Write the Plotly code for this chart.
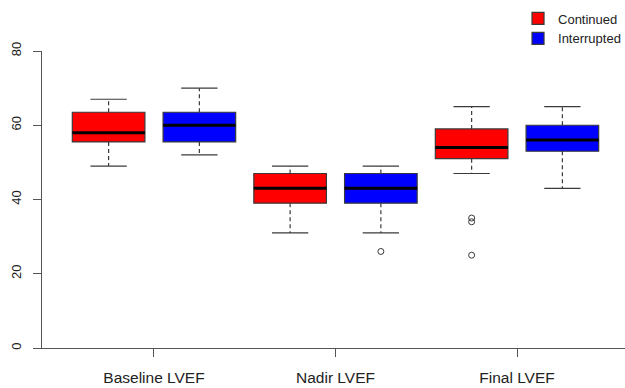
import plotly.graph_objects as go

categories = ["Baseline LVEF", "Nadir LVEF", "Final LVEF"]
groups = ["Continued", "Interrupted"]
colors = ["#ff0000", "#0000ff"]

# box statistics per group, one value per category
cont_low = [49, 31, 47]
cont_q1 = [55.5, 39, 51]
cont_med = [58, 43, 54]
cont_q3 = [63.5, 47, 59]
cont_high = [67, 49, 65]
cont_outliers = [[], [], [35, 34, 25]]

intr_low = [52, 31, 43]
intr_q1 = [55.5, 39, 53]
intr_med = [60, 43, 56]
intr_q3 = [63.5, 47, 60]
intr_high = [70, 49, 65]
intr_outliers = [[], [26], []]

stats = [
    (cont_low, cont_q1, cont_med, cont_q3, cont_high, cont_outliers),
    (intr_low, intr_q1, intr_med, intr_q3, intr_high, intr_outliers),
]
offsets = [-0.25, 0.25]
BOXW = 0.4
CAPW = 0.2
edge = "#3a3a3a"

fig = go.Figure()
for gi, (name, col) in enumerate(zip(groups, colors)):
    low, q1, med, q3, high, outl = stats[gi]
    xs = [i + 1 + offsets[gi] for i in range(len(categories))]
    wx, wy = [], []
    cx, cy = [], []
    mx, my = [], []
    ox, oy = [], []
    for i, x in enumerate(xs):
        wx += [x, x, None, x, x, None]
        wy += [q3[i], high[i], None, q1[i], low[i], None]
        cx += [x - CAPW / 2, x + CAPW / 2, None, x - CAPW / 2, x + CAPW / 2, None]
        cy += [high[i], high[i], None, low[i], low[i], None]
        mx += [x - BOXW / 2, x + BOXW / 2, None]
        my += [med[i], med[i], None]
        for v in outl[i]:
            ox.append(x)
            oy.append(v)
    fig.add_trace(go.Scatter(x=wx, y=wy, mode="lines", showlegend=False,
                             line=dict(color=edge, width=1.2, dash="4px,3px"), hoverinfo="skip"))
    fig.add_trace(go.Scatter(x=cx, y=cy, mode="lines", showlegend=False,
                             line=dict(color=edge, width=1.2), hoverinfo="skip"))
    fig.add_trace(go.Box(name=name, x=xs, q1=q1, median=med, q3=q3,
                         lowerfence=q1, upperfence=q3, width=BOXW,
                         fillcolor=col, line=dict(color=edge, width=1.2),
                         whiskerwidth=0, boxpoints=False, showlegend=True))
    fig.add_trace(go.Scatter(x=mx, y=my, mode="lines", showlegend=False,
                             line=dict(color="black", width=3), hoverinfo="skip"))
    if ox:
        fig.add_trace(go.Scatter(x=ox, y=oy, mode="markers", showlegend=False,
                                 marker=dict(symbol="circle-open", size=6,
                                             color=edge, line=dict(width=1))))

fig.update_layout(
    width=625, height=388,
    margin=dict(l=42, r=0, t=51, b=40, autoexpand=False),
    plot_bgcolor="white", paper_bgcolor="white",
    font=dict(family="Liberation Sans, Arial, sans-serif", color="#222"),
    showlegend=True,
    legend=dict(x=0.8165, xanchor="left", y=1.16, yanchor="top",
                font=dict(size=13, color="#222"), bgcolor="rgba(0,0,0,0)",
                tracegroupgap=0, itemwidth=30),
    xaxis=dict(range=[0.383, 3.595], tickmode="array", tickvals=[1, 2, 3],
               ticktext=categories, showline=True, linecolor="#555", linewidth=1,
               ticks="outside", ticklen=8, tickcolor="#555", showgrid=False,
               zeroline=False, tickfont=dict(size=15.5, color="#222"),
               ticklabelstandoff=7),
    yaxis=dict(range=[0, 80], tickvals=[0, 20, 40, 60, 80], showline=True,
               linecolor="#555", linewidth=1, ticks="outside", ticklen=8,
               tickcolor="#555", showgrid=False, zeroline=False, tickangle=-90,
               tickfont=dict(size=13, color="#222"), ticklabelstandoff=7),
)

fig.write_html("out.html", config={"displayModeBar": False},
               post_script="document.body.style.margin='0px';")
